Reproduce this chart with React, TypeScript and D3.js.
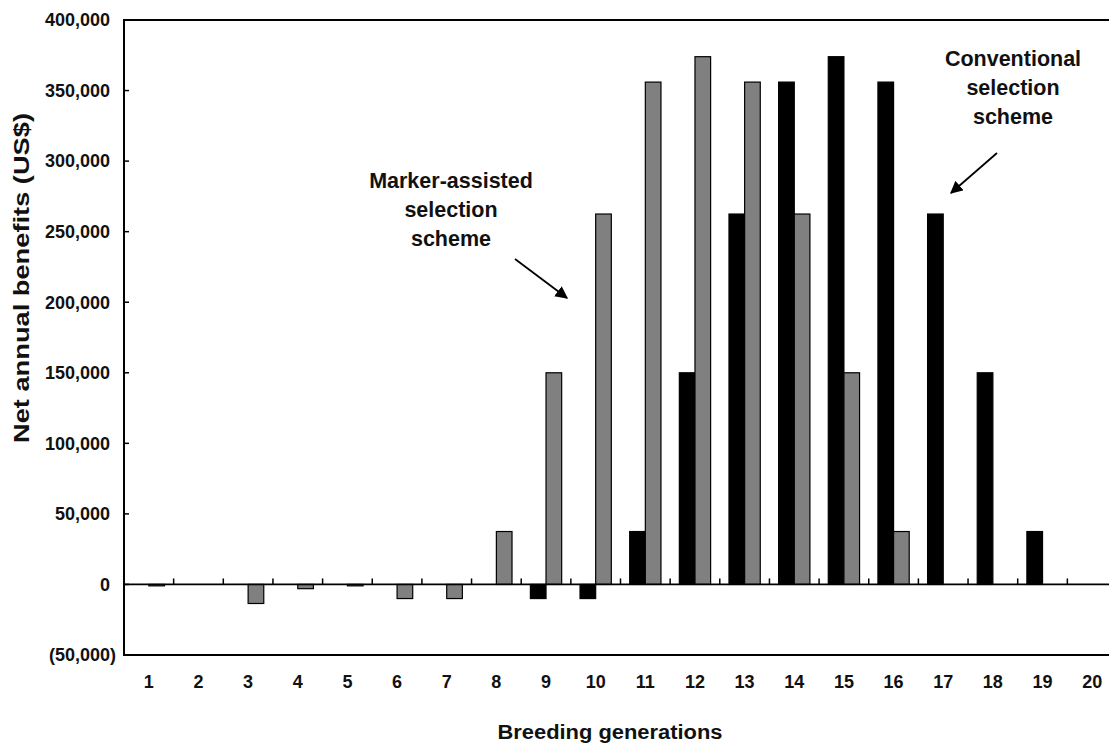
import React from "react";
import * as d3 from "d3";

const generations: string[] = Array.from({ length: 20 }, (_, i) => String(i + 1));
const conventional: number[] = [0, 0, 0, 0, 0, 0, 0, 0, -10000, -10000, 37500, 150000, 262500, 356000, 374000, 356000, 262500, 150000, 37500, 0];
const markerAssisted: number[] = [-1000, 0, -13500, -3000, -1000, -10000, -10000, 37500, 150000, 262500, 356000, 374000, 356000, 262500, 150000, 37500, 0, 0, 0, 0];
const yTicks: number[] = [-50000, 0, 50000, 100000, 150000, 200000, 250000, 300000, 350000, 400000];
const seriesKeys = ["conv", "mas"];
const yTitle = "Net annual benefits (US$)";
const xTitle = "Breeding generations";
const masLabel = ["Marker-assisted", "selection", "scheme"];
const convLabel = ["Conventional", "selection", "scheme"];

const W = 1109, H = 749;
const L = 124, R = 1117, T = 20, B = 655;
const FONT = "'Liberation Sans', Arial, Helvetica, sans-serif";

export default function App() {
  const x = d3.scaleBand<string>().domain(generations).range([L, R]).padding(0);
  const y = d3.scaleLinear().domain([-50000, 400000]).range([B, T]);
  const bw = x.bandwidth();
  const pairW = bw * 0.63;
  const inner = d3.scaleBand<string>().domain(seriesKeys).range([0, pairW]);
  const fmt = d3.format(",");
  const y0 = y(0);

  const bars: JSX.Element[] = [];
  generations.forEach((g, i) => {
    const start = (x(g) as number) + (bw - pairW) / 2;
    const vals: [string, number][] = [["conv", conventional[i]], ["mas", markerAssisted[i]]];
    vals.forEach(([k, v]) => {
      if (v === 0) return;
      const top = Math.min(y(v), y0);
      const h = Math.abs(y(v) - y0);
      bars.push(
        <rect
          key={`${k}-${g}`}
          x={start + (inner(k) as number)}
          y={top}
          width={inner.bandwidth()}
          height={h}
          fill={k === "conv" ? "#000" : "#808080"}
          stroke="#000"
          strokeWidth={1.2}
        />
      );
    });
  });

  return (
    <svg width={W} height={H} style={{ position: "absolute", left: 0, top: 0, background: "#fff" }} fontFamily={FONT}>
      <defs>
        <marker id="ah" viewBox="0 0 10 10" refX="9" refY="5" markerWidth="7" markerHeight="7" orient="auto">
          <path d="M0,0 L10,5 L0,10 z" fill="#000" />
        </marker>
      </defs>
      <rect x={L} y={T} width={R - L} height={B - T} fill="none" stroke="#000" strokeWidth={2} />
      {yTicks.map((t) => (
        <g key={t}>
          <line x1={L} x2={L + 5} y1={y(t)} y2={y(t)} stroke="#000" strokeWidth={1.5} />
          <text x={t < 0 ? 116 : 110} y={y(t)} dy="0.35em" textAnchor="end" fontSize={18} fontWeight="bold" fill="#111">
            {t < 0 ? `(${fmt(-t)})` : fmt(t)}
          </text>
        </g>
      ))}
      {bars}
      <line x1={L} x2={R} y1={y0} y2={y0} stroke="#000" strokeWidth={1.8} />
      {generations.slice(1).map((g) => (
        <line key={`t${g}`} x1={x(g) as number} x2={x(g) as number} y1={y0} y2={y0 - 6} stroke="#000" strokeWidth={1.5} />
      ))}
      {generations.map((g) => (
        <text key={`l${g}`} x={(x(g) as number) + bw / 2} y={688} textAnchor="middle" fontSize={18} fontWeight="bold" fill="#111">
          {g}
        </text>
      ))}
      <text x={610} y={739} textAnchor="middle" fontSize={20} fontWeight="bold" fill="#111" textLength={225} lengthAdjust="spacingAndGlyphs">
        {xTitle}
      </text>
      <text
        transform={`translate(28.5,278) rotate(-90)`}
        textAnchor="middle"
        fontSize={22.5}
        fontWeight="bold"
        fill="#111"
        textLength={330}
        lengthAdjust="spacingAndGlyphs"
      >
        {yTitle}
      </text>
      {masLabel.map((s, i) => (
        <text key={`m${i}`} x={451} y={188 + i * 29} textAnchor="middle" fontSize={21.5} fontWeight="bold" fill="#111">
          {s}
        </text>
      ))}
      {convLabel.map((s, i) => (
        <text key={`c${i}`} x={1013} y={66 + i * 29} textAnchor="middle" fontSize={21.5} fontWeight="bold" fill="#111">
          {s}
        </text>
      ))}
      <line x1={515} y1={259} x2={567} y2={298} stroke="#000" strokeWidth={1.8} markerEnd="url(#ah)" />
      <line x1={997} y1={153} x2={951} y2={193} stroke="#000" strokeWidth={1.8} markerEnd="url(#ah)" />
    </svg>
  );
}
